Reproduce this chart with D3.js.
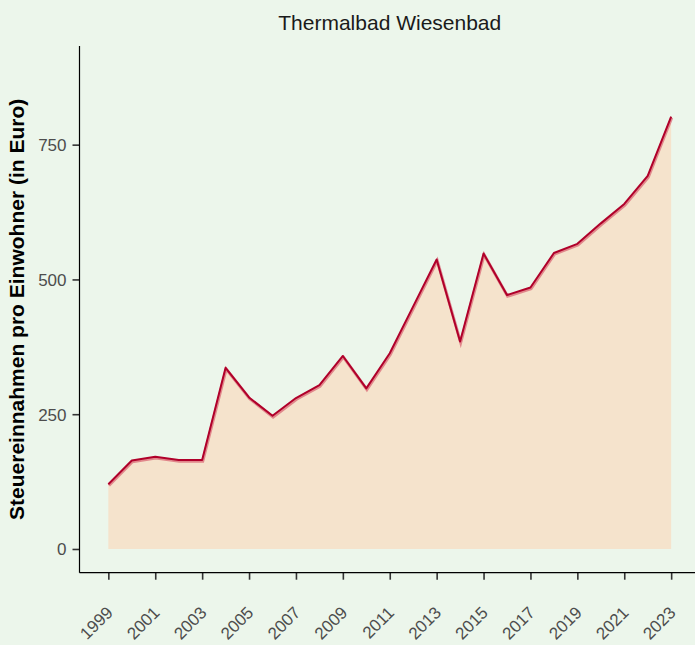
<!DOCTYPE html>
<html>
<head>
<meta charset="utf-8">
<script src="https://cdn.jsdelivr.net/npm/d3@7"></script>
<style>
  body { margin: 0; background: #ECF6EB; }
  svg { display: block; font-family: "Liberation Sans", Arial, sans-serif; }
  .tick text { fill: #4D4D4D; font-size: 17px; }
  .tick line { stroke: #333333; stroke-width: 1.6; }
</style>
</head>
<body>
<div id="chart"></div>
<script>
// Daten
const years = [1999, 2000, 2001, 2002, 2003, 2004, 2005, 2006, 2007, 2008, 2009, 2010,
  2011, 2012, 2013, 2014, 2015, 2016, 2017, 2018, 2019, 2020, 2021, 2022, 2023];
const values = [120, 164, 171, 165, 165, 336, 281, 247, 280, 304, 358, 298,
  363, 450, 537, 385, 548, 471, 485, 549, 566, 604, 640, 692, 802];
const yTicks = [0, 250, 500, 750];
const xTicks = [1999, 2001, 2003, 2005, 2007, 2009, 2011, 2013, 2015, 2017, 2019, 2021, 2023];

const w = 695, h = 645;
const data = years.map((y, i) => ({ year: y, value: values[i] }));

const svg = d3.select("#chart")
  .append("svg")
  .attr("width", w)
  .attr("height", h);

svg.append("rect").attr("width", w).attr("height", h).attr("fill", "#ECF6EB");

const margin = { left: 79.5, bottom: 572.7, top: 46, right: 700 };

const xScale = d3.scaleLinear()
  .domain([1997.77, 2024.23])
  .range([margin.left, margin.right]);

const yScale = d3.scaleLinear()
  .domain([-44, 933])
  .range([margin.bottom, margin.top]);

// Fläche
const area = d3.area()
  .x(d => xScale(d.year))
  .y0(yScale(0))
  .y1(d => yScale(d.value));

svg.append("path")
  .datum(data)
  .attr("d", area)
  .attr("fill", "#F5E3CC");

// Linie (mit hellem Schatten)
const line = d3.line()
  .x(d => xScale(d.year))
  .y(d => yScale(d.value));

svg.append("path")
  .datum(data)
  .attr("d", line)
  .attr("transform", "translate(0.6,1.2)")
  .attr("fill", "none")
  .attr("stroke", "#D9606F")
  .attr("stroke-opacity", 0.7)
  .attr("stroke-width", 3);

svg.append("path")
  .datum(data)
  .attr("d", line)
  .attr("fill", "none")
  .attr("stroke", "#B0002A")
  .attr("stroke-width", 2)
  .attr("stroke-linejoin", "round");

// Achsen
const yAxis = d3.axisLeft(yScale).tickValues(yTicks).tickSize(7).tickPadding(6);
const gy = svg.append("g")
  .attr("transform", `translate(${margin.left},0)`)
  .call(yAxis);
gy.select(".domain").remove();
gy.selectAll("text").attr("dy", "0.35em");

const xAxis = d3.axisBottom(xScale).tickValues(xTicks).tickSize(7).tickFormat(d3.format("d"));
const gx = svg.append("g")
  .attr("transform", `translate(0,${margin.bottom})`)
  .call(xAxis);
gx.select(".domain").remove();
gx.selectAll("text")
  .attr("y", 0)
  .attr("dy", 0)
  .attr("transform", "translate(5,41) rotate(-45)")
  .style("text-anchor", "end");

svg.append("line")
  .attr("x1", margin.left).attr("x2", margin.left)
  .attr("y1", margin.top).attr("y2", margin.bottom)
  .attr("stroke", "#000").attr("stroke-width", 1.2);

svg.append("line")
  .attr("x1", margin.left).attr("x2", margin.right)
  .attr("y1", margin.bottom).attr("y2", margin.bottom)
  .attr("stroke", "#000").attr("stroke-width", 1.2);

// Achsentitel
svg.append("text")
  .attr("transform", `translate(24,${(margin.top + margin.bottom) / 2}) rotate(-90)`)
  .style("text-anchor", "middle")
  .style("font-weight", "bold")
  .style("font-size", "21px")
  .attr("fill", "#000")
  .text("Steuereinnahmen pro Einwohner (in Euro)");

// Titel
svg.append("text")
  .attr("x", (margin.left + margin.right) / 2)
  .attr("y", 30)
  .style("text-anchor", "middle")
  .style("font-size", "21px")
  .attr("fill", "#1A1A1A")
  .text("Thermalbad Wiesenbad");
</script>
</body>
</html>
